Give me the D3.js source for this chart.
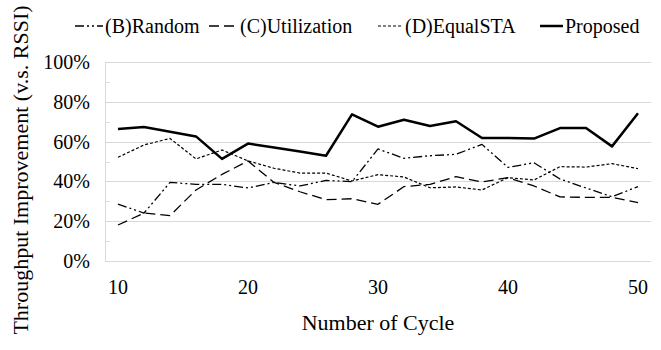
<!DOCTYPE html>
<html>
<head>
<meta charset="utf-8">
<script src="https://cdn.jsdelivr.net/npm/d3@7"></script>
<style>
  body { margin: 0; background: #fff; }
  text { font-family: "Liberation Serif", "Times New Roman", serif; fill: #000; }
</style>
</head>
<body>
<div id="chart"></div>
<script>
// data
var cycles = [10, 12, 14, 16, 18, 20, 22, 24, 26, 28, 30, 32, 34, 36, 38, 40, 42, 44, 46, 48, 50];
var xTicks = [10, 20, 30, 40, 50];
var yTicks = [0, 20, 40, 60, 80, 100];
var randomVals = [28.6, 24.1, 39.5, 38.5, 38.5, 36.7, 39.5, 37.7, 40.5, 39.9, 56.3, 51.6, 52.9, 53.6, 58.6, 47.0, 49.4, 41.2, 36.7, 32.3, 37.4];
var utilVals = [18.1, 24.1, 22.8, 35.7, 43.5, 50.3, 39.5, 34.8, 30.8, 31.3, 28.5, 37.4, 38.5, 42.4, 39.7, 41.9, 37.7, 32.2, 32.0, 32.0, 29.3];
var equalVals = [52.1, 58.3, 61.6, 51.3, 55.8, 50.3, 46.6, 44.2, 44.2, 40.2, 43.4, 42.2, 36.8, 37.2, 35.7, 41.9, 40.7, 47.4, 47.2, 48.9, 46.4];
var proposedVals = [66.3, 67.3, 65.0, 62.6, 51.3, 59.0, 57.0, 55.0, 52.9, 73.7, 67.5, 71.0, 67.8, 70.2, 61.8, 61.8, 61.5, 66.8, 66.8, 57.6, 74.2];
var seriesNames = ["(B)Random", "(C)Utilization", "(D)EqualSTA", "Proposed"];

var series = [
  {name: seriesNames[0], values: randomVals, dash: "9,3,2,3,2,3", width: 1.3},
  {name: seriesNames[1], values: utilVals, dash: "10,5", width: 1.3},
  {name: seriesNames[2], values: equalVals, dash: "3,2", width: 1.2},
  {name: seriesNames[3], values: proposedVals, dash: null, width: 2.5}
];

var W = 661, H = 350;
var plotLeft = 105, plotRight = 651, plotTop = 62, plotBottom = 261;

var svg = d3.select("#chart").append("svg")
    .attr("width", W)
    .attr("height", H);

var x = d3.scalePoint()
    .domain(cycles)
    .range([plotLeft, plotRight])
    .padding(0.5);

var y = d3.scaleLinear()
    .domain([0, 100])
    .range([plotBottom, plotTop]);

// gridlines
svg.append("g").selectAll("line")
    .data(yTicks)
  .enter().append("line")
    .attr("x1", plotLeft).attr("x2", plotRight)
    .attr("y1", function(d) { return Math.round(y(d)) + 0.5; })
    .attr("y2", function(d) { return Math.round(y(d)) + 0.5; })
    .attr("stroke", "#d9d9d9")
    .attr("stroke-width", 1);

// left axis line + minor ticks
svg.append("line")
    .attr("x1", plotLeft + 0.5).attr("x2", plotLeft + 0.5)
    .attr("y1", y(100)).attr("y2", y(0))
    .attr("stroke", "#d9d9d9");

svg.append("g").selectAll("line")
    .data(d3.range(0, 101, 10))
  .enter().append("line")
    .attr("x1", plotLeft).attr("x2", plotLeft + 5)
    .attr("y1", function(d) { return Math.round(y(d)) + 0.5; })
    .attr("y2", function(d) { return Math.round(y(d)) + 0.5; })
    .attr("stroke", "#d9d9d9");

// y tick labels
svg.append("g").selectAll("text")
    .data(yTicks)
  .enter().append("text")
    .attr("x", 90)
    .attr("y", function(d) { return y(d); })
    .attr("dy", "0.35em")
    .attr("text-anchor", "end")
    .style("font-size", "20px")
    .text(function(d) { return d + "%"; });

// x tick labels
svg.append("g").selectAll("text")
    .data(xTicks)
  .enter().append("text")
    .attr("x", function(d) { return x(d); })
    .attr("y", 287)
    .attr("dy", "0.35em")
    .attr("text-anchor", "middle")
    .style("font-size", "20px")
    .text(function(d) { return d; });

// axis titles
svg.append("text")
    .attr("x", 378)
    .attr("y", 322)
    .attr("dy", "0.35em")
    .attr("text-anchor", "middle")
    .style("font-size", "22px")
    .text("Number of Cycle");

svg.append("text")
    .attr("transform", "translate(20,170) rotate(-90)")
    .attr("dy", "0.35em")
    .attr("text-anchor", "middle")
    .style("font-size", "22px")
    .text("Throughput Improvement (v.s. RSSI)");

// lines
var line = d3.line()
    .x(function(d, i) { return x(cycles[i]); })
    .y(function(d) { return y(d); });

svg.append("g").selectAll("path")
    .data(series)
  .enter().append("path")
    .attr("d", function(d) { return line(d.values); })
    .attr("fill", "none")
    .attr("stroke", "#000")
    .attr("stroke-width", function(d) { return d.width; })
    .attr("stroke-dasharray", function(d) { return d.dash; })
    .attr("stroke-linejoin", "round");

// legend
var legendX = [75, 209, 378, 540];
var legendTextX = [105, 240, 405, 565];
var legend = svg.append("g").selectAll("g")
    .data(series)
  .enter().append("g")
    .attr("transform", function(d, i) { return "translate(" + legendX[i] + ",26)"; });

legend.append("line")
    .attr("x1", 0)
    .attr("x2", function(d, i) { return legendTextX[i] - legendX[i] - 2; })
    .attr("stroke", "#000")
    .attr("stroke-width", function(d) { return d.width; })
    .attr("stroke-dasharray", function(d) { return d.dash; });

legend.append("text")
    .attr("x", function(d, i) { return legendTextX[i] - legendX[i]; })
    .attr("dy", "0.35em")
    .style("font-size", "20px")
    .text(function(d) { return d.name; });
</script>
</body>
</html>
